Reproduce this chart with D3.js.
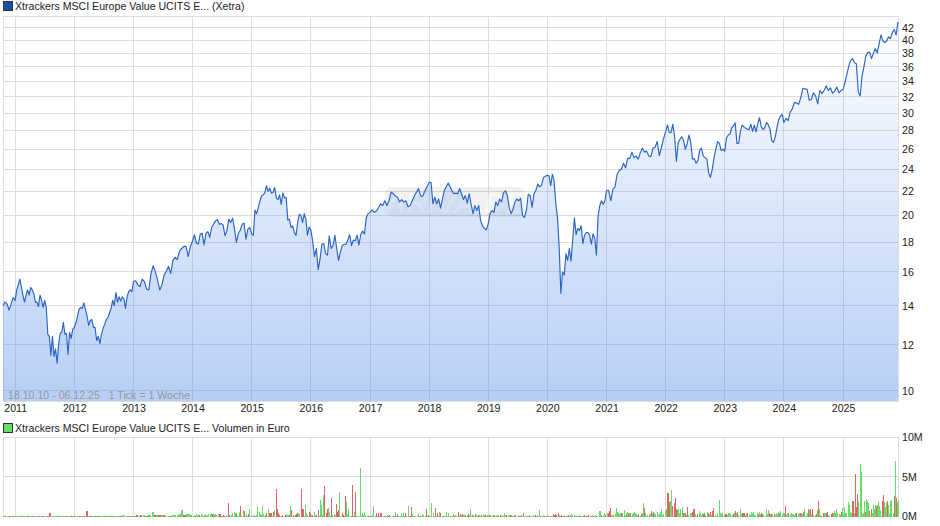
<!DOCTYPE html>
<html>
<head>
<meta charset="utf-8">
<script src="https://cdn.jsdelivr.net/npm/d3@7"></script>
<style>
  html, body { margin: 0; padding: 0; background: #fff; }
  text { font-family: "Liberation Sans", Arial, sans-serif; font-size: 10.6px; fill: #222; }
  .tick line, .domain { display: none; }
</style>
</head>
<body>
<svg width="940" height="526"></svg>
<script>
const titlePrice = "Xtrackers MSCI Europe Value UCITS E... (Xetra)";
const titleVolume = "Xtrackers MSCI Europe Value UCITS E... Volumen in Euro";
const rangeNote = "18.10.10 - 06.12.25   1 Tick = 1 Woche";
const startDate = new Date(2010, 9, 18);
const endDate = new Date(2025, 11, 6);
const priceTicks = [10, 12, 14, 16, 18, 20, 22, 24, 26, 28, 30, 32, 34, 36, 38, 40, 42];
const volumeTicks = [0, 5, 10];

// prices per calendar year, points spread evenly over the year
const price2010 = [14.0, 14.2, 14.1, 13.75, 14.1, 14.45];
const price2011 = [14.3, 14.9, 15.2, 15.55, 15.1, 14.6, 14.2, 14.6, 14.9, 14.6, 15.05, 14.9, 14.7, 14.2, 14.2, 13.95, 14.6, 14.3, 13.9, 14.3, 13.9, 12.5, 12.4, 11.5, 12.4, 11.45, 11.8, 11.15, 12.05, 12.55, 12.6, 13.1, 12.5, 12.55, 11.55, 12.6, 12.3, 12.75];
const price2012 = [12.85, 13.07, 13.4, 13.8, 13.9, 13.85, 14.15, 13.8, 13.45, 12.95, 13.2, 13.25, 12.85, 12.85, 12.2, 12.4, 12.05, 12.5, 12.8, 13, 13.25, 13.35, 13.6, 13.85, 14.3, 14, 14.75, 14.2, 14.5, 14.25, 14.5, 14.4, 13.85, 14.5, 14.8, 14.9, 14.8];
const price2013 = [15.4, 15.45, 15.2, 15.1, 15.55, 15.4, 14.95, 14.9, 15.9, 16.4, 16, 15.5, 14.9, 15.2, 15.8, 16.05, 16.35, 15.9, 16.75, 16.95, 16.8, 17.35, 17.55, 17.7, 17.7, 17, 17.7];
const price2014 = [18.1, 18.53, 17.93, 17.87, 18.58, 18.65, 17.8, 18.63, 18.77, 18.34, 19.07, 19.32, 19.58, 19.68, 19.32, 19.37, 19.27, 18.46, 18.82, 19.71, 19.45, 19.79, 18.95, 17.98, 18.63, 18.87, 19.32, 19.4, 18.22, 18.95, 19.07];
const price2015 = [18.6, 18.5, 20.43, 20.15, 20.64, 21.18, 21.6, 21.7, 21.87, 22.5, 22, 22.3, 21.85, 21.9, 22.35, 21.44, 21.3, 21.7, 20.9, 21.87, 21.44, 21.5, 19.64, 19.7, 19.07, 19.2, 18.7, 18.48, 19.45, 20.1, 20, 19.45, 20.15, 19.7, 18.5, 19.1];
const price2016 = [18.9, 18.1, 17.0, 17.55, 16.15, 16.85, 17.85, 17.9, 17.2, 17.1, 18.45, 17.55, 17.75, 18.5, 17.55, 16.75, 17.3, 17.75, 17.85, 17.85, 18.15, 18.55, 17.75, 18.15, 18.1, 18.5, 17.8, 18.55, 18.8, 18.6, 19.85, 20.15];
const price2017 = [20.25, 20.45, 20.25, 20.35, 20.6, 20.95, 20.8, 21.2, 20.8, 21.2, 21.95, 21.8, 21.6, 21.5, 21.1, 21.3, 21.1, 21.2, 20.7, 20.8, 21.2, 21.6, 21.95, 22.25, 21.6, 21.6, 22.05, 22.4];
const price2018 = [22.8, 22.8, 20.95, 21.5, 20.95, 21.35, 20.6, 21.35, 22.1, 22.4, 22.75, 22.4, 22.05, 21.8, 21.85, 21.8, 22.25, 21.8, 21.3, 21.65, 21, 21.8, 20.95, 20.15, 20.8, 20.4, 20.8, 19.6, 19.2, 19, 18.9];
const price2019 = [19.35, 20.15, 20.4, 20.25, 21.1, 20.8, 21.35, 21.1, 21.9, 22.05, 21.65, 20.65, 20.15, 20.5, 21.1, 21.35, 21.2, 21.4, 20, 19.85, 20.4, 21.75, 21.65, 20.65, 21.8, 22.1, 22.65, 22.4, 22.55, 23.25, 23.35];
const price2020 = [23.45, 23.4, 22.5, 23.55, 22.95, 20.95, 19.85, 17.65, 14.7, 16, 15.8, 17.2, 16.75, 17.55, 16.7, 18.15, 19.8, 18.55, 19, 18.85, 19.2, 17.9, 18.5, 18.7, 18.7, 18.5, 17.85, 18.6, 18.3, 17.1, 20, 20.8, 21.2, 20.9, 21.2];
const price2021 = [22.1, 22.1, 21.2, 22.2, 22.4, 23.55, 23.9, 24, 24.6, 24.15, 25.1, 25.05, 25.7, 25.15, 25.3, 25, 25.65, 26.1, 25.7, 25.8, 25.3, 25.25, 26.1, 26.2, 26.8, 25.35, 26.2, 27.1];
const price2022 = [27.9, 28.6, 27.8, 27.75, 28.7, 27.3, 24.8, 26.7, 27.05, 27.3, 26.9, 26, 26.55, 27.5, 26.7, 25, 25.05, 24.6, 24.85, 25.9, 26.1, 25.3, 25.15, 25, 23.7, 23.25, 24, 25.15, 26, 26.8, 26.6, 25.85, 26];
const price2023 = [25.8, 27.2, 27.5, 27.6, 28.3, 28.5, 28.85, 26.6, 26.6, 27.9, 28.6, 28.4, 28.25, 28.15, 28.1, 28.7, 27.9, 28.6, 27.85, 28.8, 29.45, 28.4, 28.1, 28.3, 28.9, 28.65, 28.2, 26.9, 26.7, 27.25, 28.25, 29.2, 29.65, 29.85];
const price2024 = [28.9, 29.4, 29.1, 30.1, 30.5, 31.3, 31.2, 31.05, 31.9, 33.1, 33, 32.95, 31.55, 31.65, 32.5, 32.1, 31.1, 32.8, 32.4, 32.8, 33.4, 32.8, 33.15, 32.45, 32.7, 33.25, 32.5, 32.8];
const price2025 = [32.95, 33.85, 35, 36.15, 36.95, 37.2, 36.6, 36.45, 32.65, 32.1, 34.75, 36, 37.6, 38.1, 38.2, 37.2, 38, 38.7, 38.05, 39.4, 40.85, 39.9, 39.65, 39.9, 40.55, 40.25, 41.25, 41.75, 40.85, 43];

// volume in million euro, negative = red (down) bar
const vol2010 = [.03, .05, -.04, .06, .03, -.05, .04, .02, -.03, .05];
const vol2011 = [.05, .03, -.05, .04, .06, -.05, .03, .04, -.06, .05, -.04, .03, -.05, .06, -.1, -.4, .05, .1, .06, -.04, .05, .03, -.06, .03, -.05, .04];
const vol2012 = [.08, .12, -.06, .05, -.08, -.7, .05, -.08, .04, .06, -.05, .08, .05, -.08, .1, .06, -.05, .08, .07, .05, -.08, .15, .08, -.1, .12, -.1];
const vol2013 = [.12, -.15, .08, -.2, .15, -.1, .2, .15, .55, -.2, .15, -.25, .15, -.2, .12, .08, -.1, .15, .2, .25, .3, .8, -.2, .35, .3, .2];
const vol2014 = [.1, .2, -.1, .3, .2, .15, -.2, .3, .25, .1, .2, .3, -.1, .25, .35, .3, .4, -.35, .3, -.2, .3, .25, .35, -.3, -.3, -.1, .1, -.15, -.1, .15, .1, -1.75, -.15, .1, .2, .45, .55, .45, -.45, .1, .05, .55, -1.35, .1, .85, -.7, .1, .3, .05, -.3, .95, .15];
const vol2015 = [.1, .15, -.1, .05, .2, 1.15, .6, .35, .2, 1.3, .3, .1, .15, -.5, .95, -.5, -.5, -.5, .1, -.6, .8, -3.5, -.9, -.4, -.2, .1, -.1, -.15, .1, -.2, .35, .2, .25, -.2, 1.3, -.8, -.2, .1, -.2, -.3, -.45, .5, .3, -3.5, -.95, -.95, .1, 1.45, .4, .2, -.6, -.4];
const vol2016 = [.15, -.25, .1, .6, .15, -.2, -.8, .1, 2.05, 1.45, .2, 2.65, -3.8, -.5, -1, 1.1, .6, .1, -2.3, .15, .35, .2, -1.55, -.6, -.8, 3.05, .1, -.4, -.2, .1, -2.6, 1.8, .3, .9, .05, .1, -3.9, .1, .6, -3.05, .1, .1, .05, 6.15, .1, .4, .2, .55, .2, .1, -.1, .05];
const vol2017 = [.1, -.1, .15, 1.3, .1, -.4, .1, -.4, .1, -.5, -.4, .1, -.1, .1, .05, .2, -.1, -.2, .1, .05, -.1, .1, .6, .1, -.35, .1, .05, .5, .1, .5, .1, -.4, .1, 1.3, .05, -.1, -1.25, .3, .05, -.1, .05, .1, .3, .1, -.1, .05, .3, .15, .1, -.95, .1, -.2];
const vol2018 = [.1, .1, 1.7, .4, .1, -1.1, .1, -.4, .1, .6, -.4, .1, -.1, .05, .1, .6, .1, .4, -.1, .05, .1, .3, -.1, .2, .1, -.6, .1, -.3, .2, -.3, .2, .15, -.2, .25, -.3, .2, .95, .1, -.15, .2, -.3, .15, .1, -.2, .15, .1, -.2, .3, .15, -.2, .1, .15];
const vol2019 = [.2, -.15, .2, .1, -.2, .15, .1, -.1, .2, .15, -.2, .1, .15, .1, .5, .15, -.2, .1, .2, -.25, .15, .1, -.1, .15, -.15, .1, .15, .05, -.1, .15, .1, -.4, .1, .05, -.1, .1, .15, -.1, .1, .2, .1, -.15, .05, .2, .1, .8, -.1, .05, .15, -.1, .1, .05];
const vol2020 = [.15, -.1, .05, .1, .05, -.3, -.15, -.35, -.2, -.4, .15, .1, -.15, -.1, .05, -.1, .1, -.05, -.15, .1, .2, .35, .2, -.15, .05, .1, -.1, .05, .2, -.1, .05, -.1, -.15, .05, -.1, .1, -.2, .05, -.1, .15, -.1, .1, .15, -.1, .05, .7, .65, .2, .1, .1, .4, -.2];
const vol2021 = [.4, -.4, -.7, -1.05, .2, .2, .25, .35, 1.05, .6, .5, .35, .45, -.4, .5, .8, .2, .5, .55, -.45, .5, -.5, .35, .5, .6, .5, .35, .15, -.3, .1, -.3, .4, 1.65, -1.1, .4, .1, .15, .3, .35, -.7, .5, -.6, .4, .3, .6, .2, .3, .6, .9, .2, .35, .7];
const vol2022 = [1, -2.9, -2.9, -1.8, 1.9, 3.3, -1.35, -1.7, -2.3, -1, .8, .9, .5, 1, 1.2, -.45, .5, -.45, .2, -1.25, .2, .5, .4, -.6, -1, -.9, .3, .1, -.3, .7, .4, .2, .4, -.35, -.5, .2, .6, -.4, .3, -.6, .2, -.75, -1.05, .2, .1, .4, .1, 2.05, .5, .3, .4, .2];
const vol2023 = [-.3, -.3, .2, .5, .45, .35, .2, -.3, .5, -.7, .4, -.6, .2, .9, .3, -.45, -.5, -.5, .2, .4, -.4, .3, .2, .6, .5, .6, .2, .2, .4, -.3, .6, .35, -.4, -.3, .2, .1, 1, .3, .8, -.4, .3, -.35, .3, -.3, .25, .5, .3, .6, -.4, .7, .3, .4];
const vol2024 = [.4, -1.3, .2, .5, -.5, .3, .5, .3, .3, .2, .4, -.5, .3, .4, -.4, .4, .3, -.6, 1, .2, .5, -.9, .8, -.9, .3, -.9, .2, .2, -.35, .8, -1.95, 1, .2, -.1, -.5, .4, .5, -.5, -.6, .2, .1, -.3, -.4, .5, .7, .4, 1, .5, .3, .2, -.6, 1.05];
const vol2025 = [.5, 1.25, .4, .5, 1.85, 1.5, .6, .5, -2, -2, .5, -5.3, -1.2, -2.8, 1.8, 6.6, 5.65, .3, .5, 1.95, -.6, 2.2, 1.9, 1.7, -.7, -.9, .4, 1.5, .9, 1.4, -1.3, 1.5, 1.8, 1.3, .8, -2, -2.7, 1.8, 1.2, 1.7, -2, 1.4, .3, 2, 2.1, .5, -2.6, 7, -2.3, 1.8, 2.1];

const priceYears = [price2010, price2011, price2012, price2013, price2014, price2015, price2016, price2017, price2018, price2019, price2020, price2021, price2022, price2023, price2024, price2025];
const volumeYears = [vol2010, vol2011, vol2012, vol2013, vol2014, vol2015, vol2016, vol2017, vol2018, vol2019, vol2020, vol2021, vol2022, vol2023, vol2024, vol2025];

// spread one array per calendar year over that year
function spreadYears(years) {
    const out = [];
    years.forEach(function (values, k) {
        const from = k == 0 ? startDate : new Date(2010 + k, 0, 1);
        const last = k == years.length - 1;
        const to = last ? endDate : new Date(2011 + k, 0, 1);
        const step = (to - from) / (last ? values.length - 1 : values.length);
        values.forEach(function (v, i) {
            out.push({ date: new Date(+from + i * step), value: v, step: step });
        });
    });
    return out;
}

const priceData = spreadYears(priceYears);
const volumeData = spreadYears(volumeYears);

var left = 3, right = 898;
var priceTop = 16, priceBottom = 401;
var volumeTop = 437, volumeBottom = 516.5;

var svg = d3.select("svg");

var x = d3.scaleTime().domain([startDate, endDate]).range([left, right]);
var y = d3.scaleLog().domain([9.6, 44.04]).range([priceBottom, priceTop]);
var yVol = d3.scaleLinear().domain([0, 10]).range([volumeBottom, volumeTop]);

var yearTicks = d3.timeYear.range(new Date(2011, 0, 1), endDate);

var defs = svg.append("defs");
var grad = defs.append("linearGradient").attr("id", "fillGrad")
    .attr("gradientUnits", "userSpaceOnUse")
    .attr("x1", 0).attr("x2", 0).attr("y1", priceTop).attr("y2", priceBottom);
grad.append("stop").attr("offset", 0).attr("stop-color", "#4a86e8").attr("stop-opacity", 0);
grad.append("stop").attr("offset", 1).attr("stop-color", "#4a86e8").attr("stop-opacity", 0.4);

function drawGrid(top, bottom, yValues, scale) {
    var g = svg.append("g").attr("stroke", "#ddd").attr("stroke-width", 1).attr("shape-rendering", "crispEdges");
    g.selectAll(".v").data(yearTicks).enter().append("line")
        .attr("x1", d => x(d)).attr("x2", d => x(d)).attr("y1", top).attr("y2", bottom);
    g.selectAll(".h").data(yValues).enter().append("line")
        .attr("x1", left).attr("x2", right).attr("y1", d => scale(d)).attr("y2", d => scale(d));
    g.append("rect").attr("x", left).attr("y", top).attr("width", right - left).attr("height", bottom - top).attr("fill", "none");
}

drawGrid(priceTop, priceBottom, priceTicks, y);
drawGrid(volumeTop, volumeBottom, volumeTicks, yVol);

// watermark
var mark = svg.append("g");
mark.append("rect").attr("x", 385).attr("y", 187).attr("width", 140).attr("height", 30).attr("rx", 7)
    .attr("fill", "#000").attr("fill-opacity", 0.055);
mark.append("text").attr("x", 455).attr("y", 213).attr("text-anchor", "middle")
    .style("font-size", "30px").style("font-weight", "bold").style("font-style", "italic")
    .style("fill", "#fff").style("fill-opacity", 0.55).text("ARIVA.DE");

var area = d3.area().x(d => x(d.date)).y0(priceBottom).y1(d => y(d.value));
var line = d3.line().x(d => x(d.date)).y(d => y(d.value));

svg.append("path").datum(priceData).attr("fill", "url(#fillGrad)").attr("d", area);
svg.append("path").datum(priceData).attr("fill", "none").attr("stroke", "#2a64c4")
    .attr("stroke-width", 1.15).attr("stroke-linejoin", "round").attr("d", line);

// volume bars
svg.append("g").attr("shape-rendering", "crispEdges").selectAll("rect").data(volumeData).enter().append("rect")
    .attr("x", d => x(d.date))
    .attr("width", d => Math.max(1, x(new Date(+d.date + d.step)) - x(d.date) - 0.2))
    .attr("y", d => volumeBottom - Math.max(1, volumeBottom - yVol(Math.abs(d.value))))
    .attr("height", d => Math.max(1, volumeBottom - yVol(Math.abs(d.value))))
    .attr("fill", d => d.value < 0 ? "#dd6666" : "#66dd66");

// axes
svg.append("g").attr("transform", "translate(0," + (priceBottom + 3) + ")")
    .call(d3.axisBottom(x).tickValues(yearTicks).tickSize(0).tickPadding(0).tickFormat(d3.timeFormat("%Y")))
    .select(".domain").remove();
svg.append("g").attr("transform", "translate(" + (right + 4) + ",0)")
    .call(d3.axisRight(y).tickValues(priceTicks).tickSize(0).tickPadding(0).tickFormat(d => d))
    .select(".domain").remove();
svg.append("g").attr("transform", "translate(" + (right + 4) + ",0)")
    .call(d3.axisRight(yVol).tickValues(volumeTicks).tickSize(0).tickPadding(0).tickFormat(d => d + "M"))
    .select(".domain").remove();
svg.selectAll(".tick text").style("font-family", "\"Liberation Sans\", Arial, sans-serif").style("font-size", "10.6px").style("fill", "#222");

// legends
function legend(yPos, color, label) {
    svg.append("rect").attr("x", 3.5).attr("y", yPos - 8.5).attr("width", 9).attr("height", 9)
        .attr("fill", color).attr("stroke", "#333").attr("stroke-width", 1).attr("shape-rendering", "crispEdges");
    svg.append("text").attr("x", 15).attr("y", yPos).text(label);
}
legend(10, "#1450b0", titlePrice);
legend(432, "#66dd66", titleVolume);

svg.append("text").attr("x", 8).attr("y", 399).style("fill", "#999").attr("xml:space", "preserve").text(rangeNote);
</script>
</body>
</html>
